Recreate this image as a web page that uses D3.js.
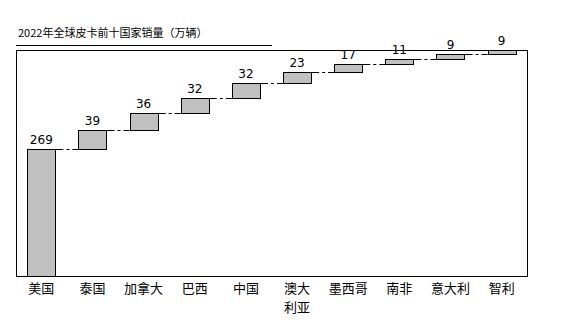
<!DOCTYPE html>
<html><head><meta charset="utf-8">
<script src="https://cdn.jsdelivr.net/npm/d3@7"></script>
<style>body{margin:0;background:#fff;}svg{display:block;font-family:"Noto Sans CJK SC","DejaVu Sans",sans-serif;}</style>
</head><body><svg id="c" width="563" height="328"></svg>
<script>
const categories = ["美国","泰国","加拿大","巴西","中国","澳大利亚","墨西哥","南非","意大利","智利"];
const values = [269,39,36,32,32,23,17,11,9,9];
const title = "2022年全球皮卡前十国家销量（万辆）";

const svg = d3.select("#c");
const L=16, R=527, T=50, B=276;
let cum=0;
const data = categories.map((c,i)=>{const s=cum; cum+=values[i]; return {c, v:values[i], s, e:cum};});
const x = d3.scaleBand().domain(categories).range([L,R]).paddingInner(0.45).paddingOuter(0.22);
const y = d3.scaleLinear().domain([0, cum]).range([B,T]);

svg.append("text").attr("x",18).attr("y",37).attr("font-size",11).attr("fill","#000").text(title);
svg.append("line").attr("x1",16).attr("x2",272).attr("y1",45.5).attr("y2",45.5).attr("stroke","#000");

svg.append("rect").attr("x",L+0.5).attr("y",T+0.5).attr("width",R-L).attr("height",B-T)
  .attr("fill","none").attr("stroke","#000");

// connectors
data.slice(0,-1).forEach((d,i)=>{
  const n = data[i+1];
  svg.append("line").attr("x1",x(d.c)+x.bandwidth()).attr("x2",x(n.c))
    .attr("y1",Math.round(y(d.e))+0.5).attr("y2",Math.round(y(d.e))+0.5)
    .attr("stroke","#000").attr("stroke-dasharray","8,3,3,3");
});

svg.selectAll("rect.bar").data(data).join("rect").attr("class","bar")
  .attr("x",d=>Math.round(x(d.c))+0.5).attr("width",Math.round(x.bandwidth()))
  .attr("y",d=>Math.round(y(d.e))+0.5).attr("height",d=>Math.round(y(d.s))-Math.round(y(d.e)))
  .attr("fill","#c0c0c0").attr("stroke","#000");

svg.selectAll("text.val").data(data).join("text").attr("class","val")
  .attr("x",d=>x(d.c)+x.bandwidth()/2).attr("y",d=>y(d.e)-5)
  .attr("text-anchor","middle").attr("font-size",12).attr("font-family","DejaVu Sans, sans-serif").text(d=>d.v);

data.forEach(d=>{
  const cx = x(d.c)+x.bandwidth()/2;
  const lines = d.c.length>3 ? [d.c.slice(0,2), d.c.slice(2)] : [d.c];
  lines.forEach((s,j)=>{
    svg.append("text").attr("x",cx).attr("y",293+j*19).attr("text-anchor","middle")
      .attr("font-size",13).text(s);
  });
});
</script></body></html>
